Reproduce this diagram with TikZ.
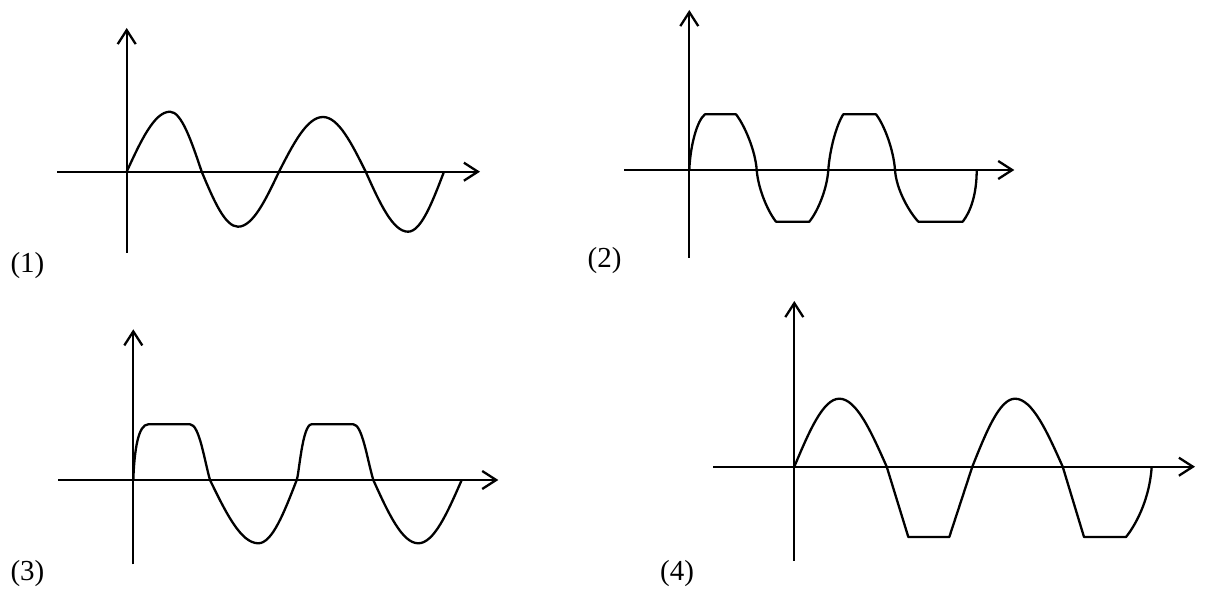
\documentclass[tikz,border=0pt]{standalone}
\usepackage{fontspec}
\setmainfont{Liberation Serif}
\usetikzlibrary{arrows.meta}
\tikzset{
  axis/.style={line width=2.3pt, -{Straight Barb[length=14pt,width=18pt,line width=2.3pt]}},
  wave/.style={line width=2.3pt, line join=round},
  lbl/.style={inner sep=0pt, font=\fontsize{29}{33}\selectfont}
}
\begin{document}
\begin{tikzpicture}[x=1pt,y=1pt]
\useasboundingbox (0,0) rectangle (1206,591);
% Panel 1
\begin{scope}[shift={(126.7,419.3)}]
  \coordinate (o1) at (0,0);
  \coordinate (y1b) at (0,-81.3); \coordinate (y1t) at (0,143.7);
  \coordinate (x1l) at (-69.7,0); \coordinate (x1r) at (353.3,0);
  \draw[axis] (y1b) -- (y1t);
  \draw[axis] (x1l) -- (x1r);
  \draw[wave] (o1) sin (43.3,60) cos (75,0) sin (111.3,-55) cos (152.3,0)
     sin (196.3,54.7) cos (239,0) sin (281.3,-60) cos (317.3,0);
\end{scope}
% Panel 2
\begin{scope}[shift={(689.3,421)}]
  \coordinate (o2) at (0,0);
  \coordinate (y2b) at (0,-88); \coordinate (y2t) at (0,160);
  \coordinate (x2l) at (-65,0); \coordinate (x2r) at (325,0);
  \draw[axis] (y2b) -- (y2t);
  \draw[axis] (x2l) -- (x2r);
  \draw[wave] (o2) .. controls (1,25) and (8,50) .. (15.7,55.7) -- (46.7,55.7)
     .. controls (55,45) and (66,20) .. (67.4,0) .. controls (69,-20) and (79,-42) .. (86.7,-51.7)
     -- (120,-51.7)
     .. controls (128,-42) and (137.6,-20) .. (139,0) .. controls (140.4,20) and (147,45) .. (154,55.7)
     -- (186.7,55.7)
     .. controls (195,45) and (204.3,20) .. (205.7,0) .. controls (207.1,-20) and (220,-42) .. (229,-51.7)
     -- (273.4,-51.7)
     .. controls (281,-42) and (287.4,-25) .. (287.4,0);
\end{scope}
% Panel 3
\begin{scope}[shift={(133.3,111)}]
  \coordinate (o3) at (0,0);
  \coordinate (y3b) at (0,-84.3); \coordinate (y3t) at (0,150.7);
  \coordinate (x3l) at (-75,0); \coordinate (x3r) at (365,0);
  \draw[axis] (y3b) -- (y3t);
  \draw[axis] (x3l) -- (x3r);
  \draw[wave] (o3) .. controls (1,30) and (5,55.7) .. (15,55.7) -- (56.7,55.7)
     .. controls (66,55.7) and (71,20) .. (76.7,0) sin (125,-63.3) cos (163.4,0)
     .. controls (166,7) and (169,55.7) .. (178.4,55.7) -- (220,55.7)
     .. controls (229,55.7) and (234,20) .. (240,0) sin (285,-63.3) cos (328.4,0);
\end{scope}
% Panel 4
\begin{scope}[shift={(794.3,124.3)}]
  \coordinate (o4) at (0,0);
  \coordinate (y4b) at (0,-94.3); \coordinate (y4t) at (0,165.7);
  \coordinate (x4l) at (-81,0); \coordinate (x4r) at (400.7,0);
  \draw[axis] (y4b) -- (y4t);
  \draw[axis] (x4l) -- (x4r);
  \draw[wave] (o4) sin (45,68) cos (92.4,0) -- (114,-70.3) -- (155,-70.3)
     -- (178,0) sin (220.7,68) cos (268.4,0) -- (289.7,-70.3) -- (331.7,-70.3)
     .. controls (340,-60) and (355,-35) .. (357.4,0);
\end{scope}
% Labels
\node[lbl] (l1) at (27.5,325) {(1)};
\node[lbl] (l2) at (604.5,330) {(2)};
\node[lbl] (l3) at (27.5,17.5) {(3)};
\node[lbl] (l4) at (677,17) {(4)};
\end{tikzpicture}
\end{document}
